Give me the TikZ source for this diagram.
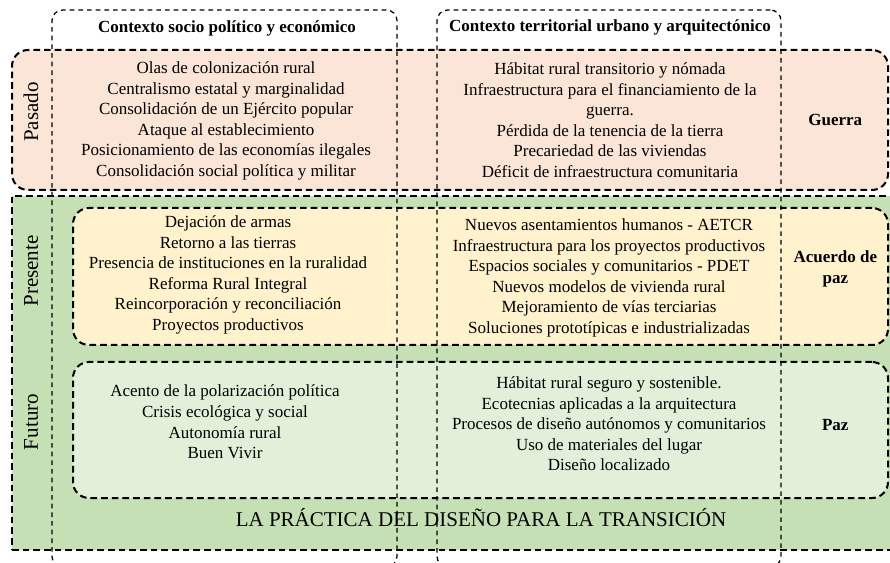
\documentclass[tikz,border=0pt]{standalone}
\usepackage{fontspec}
\setmainfont{Liberation Serif}
\usepackage{tikz}
\usetikzlibrary{calc,fit,positioning}
\definecolor{pasadofill}{HTML}{FBE5D6}
\definecolor{verdefill}{HTML}{C5E0B4}
\definecolor{presentefill}{HTML}{FFF2CC}
\definecolor{futurofill}{HTML}{E2F0D9}
\tikzset{
        rowbox/.style = {draw, rectangle, inner sep=0pt,
            line width=1.5pt, dash pattern=on 5pt off 3pt,
            rounded corners=12pt},
        colbox/.style = {draw, rectangle, inner sep=0pt,
            line width=0.95pt, dash pattern=on 3.5pt off 3pt,
            rounded corners=8pt},
        txt/.style = {align=center, inner sep=0pt,
            font=\fontsize{12.75}{15.4}\selectfont},
        head/.style = {txt, font=\fontsize{12.75}{15.4}\selectfont\bfseries},
        bigtxt/.style = {inner sep=0pt, font=\fontsize{15.75}{18}\selectfont},
        side/.style = {bigtxt, rotate=90},
    }

\begin{document}
\begin{tikzpicture}[x=0.75pt,y=-0.75pt]
    \useasboundingbox (0,0) rectangle (890,563);

    % filas
    \node[rowbox, fill=verdefill, sharp corners, fit={(12,196) (896,550)}] (ahora) {};
    \node[rowbox, fill=pasadofill, fit={(12,50) (888,190)}] (pasado) {};
    \node[rowbox, fill=presentefill, fit={(73,208) (888,345)}] (presente) {};
    \node[rowbox, fill=futurofill, fit={(73,362) (888,498)}] (futuro) {};

    % columnas
    \node[colbox, fit={(52,10) (397,567)}] (socio) {};
    \node[colbox, fit={(437,10) (781,567)}] (territorio) {};

    \node[head] (hsocio) at (227,28) {Contexto socio político y económico};
    \node[head] (hterritorio) at (610,27) {Contexto territorial urbano y arquitectónico};

    \node[side] (lpasado) at (31,112) {Pasado};
    \node[side] (lpresente) at (31,271) {Presente};
    \node[side] (lfuturo) at (31,422) {Futuro};

    \node[txt] (pasadoL) at (226,121) {Olas de colonización rural\\
        Centralismo estatal y marginalidad\\
        Consolidación de un Ejército popular\\
        Ataque al establecimiento\\
        Posicionamiento de las economías ilegales\\
        Consolidación social política y militar};
    \node[txt] (pasadoR) at (610,120) {Hábitat rural transitorio y nómada\\
        Infraestructura para el financiamiento de la\\
        guerra.\\
        Pérdida de la tenencia de la tierra\\
        Precariedad de las viviendas\\
        Déficit de infraestructura comunitaria};
    \node[head] (guerra) at ($(pasado.east)!0.5!(pasado.east -| territorio.east)$) {Guerra};

    \node[txt] (presenteL) at (228,275) {Dejación de armas\\
        Retorno a las tierras\\
        Presencia de instituciones en la ruralidad\\
        Reforma Rural Integral\\
        Reincorporación y reconciliación\\
        Proyectos productivos};
    \node[txt] (presenteR) at (609,278) {Nuevos asentamientos humanos - AETCR\\
        Infraestructura para los proyectos productivos\\
        Espacios sociales y comunitarios - PDET\\
        Nuevos modelos de vivienda rural\\
        Mejoramiento de vías terciarias\\
        Soluciones prototípicas e industrializadas};
    \node[head] (acuerdo) at (guerra |- 0,269) {Acuerdo de\\paz};

    \node[txt] (futuroL) at (225,422) {Acento de la polarización política\\
        Crisis ecológica y social\\
        Autonomía rural\\
        Buen Vivir};
    \node[txt] (futuroR) at (609,424) {Hábitat rural seguro y sostenible.\\
        Ecotecnias aplicadas a la arquitectura\\
        Procesos de diseño autónomos y comunitarios\\
        Uso de materiales del lugar\\
        Diseño localizado};
    \node[head] (paz) at (guerra |- 0,425) {Paz};

    \node[bigtxt] (lema) at (481,518) {LA PRÁCTICA DEL DISEÑO PARA LA TRANSICIÓN};
\end{tikzpicture}
\end{document}
